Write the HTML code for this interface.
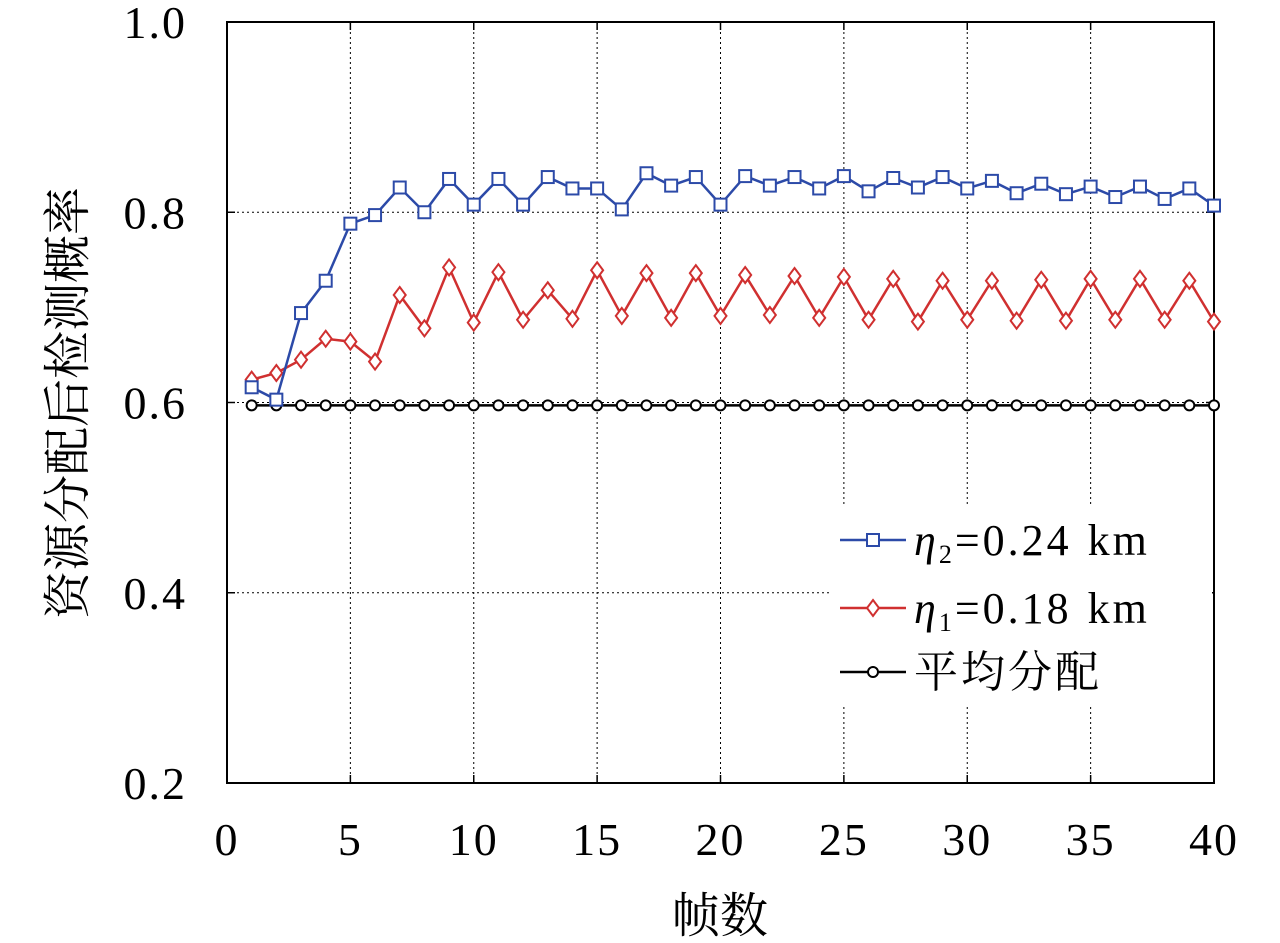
<!DOCTYPE html>
<html><head><meta charset="utf-8"><style>
body{margin:0;background:#fff;}
svg{display:block;font-family:"Liberation Serif","Noto Serif CJK SC",serif;}
</style></head><body>
<svg id="chart" width="1280" height="943"></svg>
<script>
const frames=[];for(let i=1;i<=40;i++)frames.push(i);
const blueVals=[0.616,0.603,0.694,0.728,0.788,0.797,0.826,0.800,0.835,0.808,0.835,0.808,0.837,0.825,0.825,0.803,0.841,0.828,0.837,0.808,0.838,0.828,0.837,0.825,0.838,0.822,0.836,0.826,0.837,0.825,0.833,0.820,0.830,0.819,0.827,0.816,0.827,0.814,0.825,0.807];
const redVals=[0.624,0.631,0.645,0.667,0.664,0.643,0.713,0.678,0.742,0.684,0.737,0.687,0.718,0.688,0.739,0.691,0.736,0.689,0.736,0.691,0.734,0.692,0.733,0.689,0.732,0.687,0.730,0.685,0.728,0.687,0.728,0.686,0.729,0.686,0.730,0.687,0.730,0.687,0.728,0.685];
const avgVals=frames.map(()=>0.597);
const xTicks=[0,5,10,15,20,25,30,35,40];
const yTicks=[0.2,0.4,0.6,0.8,1.0];
const yTickLabels=["0.2","0.4","0.6","0.8","1.0"];

const svg=document.getElementById('chart');
const NS="http://www.w3.org/2000/svg";
const L=227,R=1214,T=22,B=783;
const xs=v=>L+(v-0)/40*(R-L);
const ys=v=>B-(v-0.2)/0.8*(B-T);
function mk(tag,attrs,parent){const e=document.createElementNS(NS,tag);for(const k in attrs)e.setAttribute(k,attrs[k]);(parent||svg).appendChild(e);return e;}

const grid=mk('g',{});


xTicks.forEach(t=>{if(t>0&&t<40)mk('line',{x1:xs(t),x2:xs(t),y1:T,y2:B,stroke:'#000','stroke-width':1,'stroke-dasharray':'2,3'},grid);});
yTicks.forEach(t=>{if(t>0.2&&t<1.0)mk('line',{x1:L,x2:R,y1:ys(t),y2:ys(t),stroke:'#000','stroke-width':1,'stroke-dasharray':'2,3'},grid);});

const frame=mk('rect',{x:L,y:T,width:R-L,height:B-T,fill:'none',stroke:'#000','stroke-width':2});



const xa=mk('g',{});


xTicks.forEach(t=>{
 mk('line',{x1:xs(t),x2:xs(t),y1:B,y2:B-8,stroke:'#000','stroke-width':1.5},xa);
 mk('line',{x1:xs(t),x2:xs(t),y1:T,y2:T+8,stroke:'#000','stroke-width':1.5},xa);
 const tx=mk('text',{x:xs(t),y:B+72,'font-size':46,'text-anchor':'middle','letter-spacing':2},xa);tx.textContent=t;
});
const ya=mk('g',{});


yTicks.forEach((t,i)=>{
 mk('line',{x1:L,x2:L+8,y1:ys(t),y2:ys(t),stroke:'#000','stroke-width':1.5},ya);
 mk('line',{x1:R,x2:R-8,y1:ys(t),y2:ys(t),stroke:'#000','stroke-width':1.5},ya);
 const tx=mk('text',{x:L-40,y:ys(t)+16,'font-size':46,'text-anchor':'end','letter-spacing':2},ya);tx.textContent=yTickLabels[i];
});
const xt=mk('text',{x:720,y:932,'font-size':48,'text-anchor':'middle'});xt.textContent='帧数';


const yt=mk('text',{x:0,y:0,'font-size':48,'text-anchor':'middle',transform:'translate(84,403) rotate(-90)'});yt.textContent='资源分配后检测概率';



function marker(g,type,x,y,c){
 if(type==='sq')mk('rect',{x:x-6,y:y-6,width:12,height:12,fill:'#fff',stroke:c,'stroke-width':2},g);
 else if(type==='di')mk('polygon',{points:`${x},${y-8} ${x+6},${y} ${x},${y+8} ${x-6},${y}`,fill:'#fff',stroke:c,'stroke-width':2},g);
 else mk('circle',{cx:x,cy:y,r:5,fill:'#fff',stroke:c,'stroke-width':2},g);
}
function series(vals,c,type,name){
 const g=mk('g',{});
 
 
 mk('polyline',{points:vals.map((v,i)=>xs(frames[i])+','+ys(v)).join(' '),fill:'none',stroke:c,'stroke-width':2.5},g);
 vals.forEach((v,i)=>marker(g,type,xs(frames[i]),ys(v),c));
}
series(avgVals,'#000','ci','series-average');
series(redVals,'#d03030','di','series-eta1');
series(blueVals,'#2c4aa8','sq','series-eta2');

const lg=mk('g',{});


mk('rect',{x:832,y:505,width:380,height:200,fill:'#fff'},lg);
const items=[['sq','#2c4aa8','2','0.24 km',540],['di','#d03030','1','0.18 km',608],['ci','#000',null,'平均分配',672]];
items.forEach(([t,c,sub,lab,y])=>{
 mk('line',{x1:840,x2:906,y1:y,y2:y,stroke:c,'stroke-width':2.5},lg);
 marker(lg,t,873,y,c);
 const tx=mk('text',{x:914,y:y+15,'font-size':44,'letter-spacing':3},lg);
 if(sub){tx.innerHTML=`<tspan font-style="italic">η</tspan><tspan font-size="26" dy="8">${sub}</tspan><tspan dy="-8">=${lab.replace(' km','')}</tspan><tspan dx="16">km</tspan>`;}
 else tx.textContent=lab;
});
</script>
</body></html>
